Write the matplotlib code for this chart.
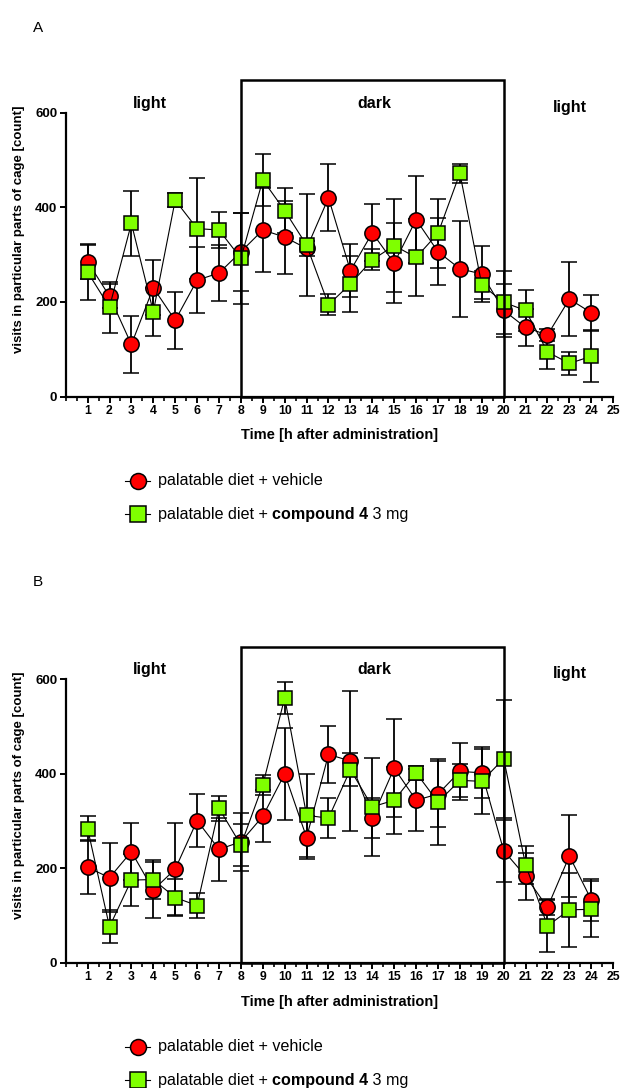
import matplotlib
matplotlib.use("Agg")
import matplotlib.pyplot as plt
from matplotlib.patches import Rectangle
from matplotlib.lines import Line2D
from matplotlib.ticker import MultipleLocator

plt.rcParams['font.family'] = ['Liberation Sans', 'DejaVu Sans']

hours = list(range(1, 25))
x_ticks = list(range(1, 26))
y_ticks = [0, 200, 400, 600]

A_veh_mean = [285, 212, 110, 230, 161, 246, 261, 306, 352, 337, 313, 420, 266, 346, 282, 374, 306, 270, 259, 182, 146, 130, 206, 177]
A_veh_sem = [37, 25, 61, 58, 60, 70, 59, 83, 89, 77, 15, 71, 56, 60, 84, 92, 71, 101, 60, 56, 40, 12, 79, 38]
A_cmp_mean = [263, 189, 366, 179, 415, 355, 352, 292, 458, 393, 320, 194, 238, 289, 319, 294, 345, 472, 236, 199, 182, 94, 70, 85]
A_cmp_sem = [58, 54, 69, 51, 15, 107, 38, 97, 55, 48, 108, 22, 59, 22, 99, 81, 73, 20, 30, 67, 44, 36, 25, 55]

B_veh_mean = [202, 180, 235, 154, 198, 301, 240, 256, 310, 400, 265, 441, 427, 306, 412, 344, 357, 405, 402, 237, 183, 117, 226, 133]
B_veh_sem = [57, 73, 60, 59, 97, 57, 67, 61, 55, 97, 46, 61, 149, 42, 104, 66, 70, 60, 54, 66, 50, 17, 86, 44]
B_cmp_mean = [284, 76, 175, 176, 138, 121, 327, 249, 376, 561, 312, 306, 409, 330, 344, 402, 340, 386, 384, 432, 207, 78, 112, 113]
B_cmp_sem = [27, 35, 56, 42, 40, 27, 26, 44, 22, 34, 88, 43, 35, 104, 71, 15, 91, 35, 69, 125, 41, 55, 78, 59]

dark_start, dark_end = 8, 20
phase_labels = ["light", "dark", "light"]
phase_x = [3.85, 14.1, 23.0]
phase_y = [620, 620, 612]

label_veh = "palatable diet + vehicle"
label_cmp_parts = [("palatable diet + ", 'normal'), ("compound 4", 'bold'), (" 3 mg", 'normal')]
red = "#FF0000"
green = "#7FFF00"

W, H = 624, 1088
fig = plt.figure(figsize=(W / 100, H / 100), dpi=100)

def px_axes(left, right, top, bottom):
    return [left / W, 1 - bottom / H, (right - left) / W, (bottom - top) / H]

def draw_panel(rect, veh_m, veh_s, cmp_m, cmp_s, box_top):
    ax = fig.add_axes(rect)
    ax.set_xlim(0, 25)
    ax.set_ylim(0, 600)
    for m, s, col, mk in [(veh_m, veh_s, red, 'o'), (cmp_m, cmp_s, green, 's')]:
        ax.errorbar(hours, m, yerr=s, fmt='-', color='black', lw=0.8,
                    ecolor='black', elinewidth=1.3, capsize=5.5, capthick=1.3,
                    marker=mk, markersize=11 if mk == 'o' else 10.5,
                    markerfacecolor=col, markeredgecolor='black',
                    markeredgewidth=1.1, clip_on=False, zorder=3)
    ax.add_patch(Rectangle((dark_start, 0), dark_end - dark_start, box_top,
                           fill=False, lw=1.8, edgecolor='black',
                           clip_on=False, zorder=4))
    for t, xx, yy in zip(phase_labels, phase_x, phase_y):
        ax.text(xx, yy, t, ha='center', va='center', fontsize=11.5,
                fontweight='bold')
    ax.spines['top'].set_visible(False)
    ax.spines['right'].set_visible(False)
    ax.spines['left'].set_linewidth(1.6)
    ax.spines['bottom'].set_linewidth(1.6)
    ax.set_xticks(x_ticks)
    ax.xaxis.set_minor_locator(MultipleLocator(0.5))
    ax.set_yticks(y_ticks)
    ax.tick_params(axis='both', which='major', width=1.4, length=4, pad=2)
    ax.tick_params(axis='x', which='major', labelsize=8.8)
    ax.tick_params(axis='y', which='major', labelsize=9.5)
    ax.tick_params(axis='x', which='minor', width=1.2, length=3)
    for lab in ax.get_xticklabels() + ax.get_yticklabels():
        lab.set_fontweight('bold')
    ax.set_xlabel("Time [h after administration]", fontsize=10.5,
                  fontweight='bold')
    ax.xaxis.set_label_coords(0.5, -0.137)
    ax.xaxis.label.set_va('center')
    ax.set_ylabel("visits in particular parts of cage [count]", fontsize=9.5,
                  fontweight='bold')
    ax.yaxis.set_label_coords(-0.085, 0.59)
    ax.yaxis.label.set_va('center')
    return ax

axA = draw_panel(px_axes(65.7, 613.2, 112.7, 396.5),
                 A_veh_mean, A_veh_sem, A_cmp_mean, A_cmp_sem, 670)
axB = draw_panel(px_axes(65.7, 613.2, 679.3, 962.7),
                 B_veh_mean, B_veh_sem, B_cmp_mean, B_cmp_sem, 668)

fig.text(33 / W, 1 - 28 / H, "A", fontsize=11, ha='left', va='center')
fig.text(33 / W, 1 - 582 / H, "B", fontsize=11, ha='left', va='center')

renderer = fig.canvas.get_renderer()
LEG_FS = 11.6

def legend(y1, y2):
    for yy, col, mk in [(y1, red, 'o'), (y2, green, 's')]:
        fy = 1 - yy / H
        fig.add_artist(Line2D([125 / W, 150 / W], [fy, fy], color='black',
                              lw=0.8, transform=fig.transFigure))
        fig.add_artist(Line2D([137.5 / W], [fy], marker=mk, markersize=11.5 if mk == 'o' else 11,
                              markerfacecolor=col, markeredgecolor='black',
                              markeredgewidth=1.1, transform=fig.transFigure))
    fig.text(158 / W, 1 - y1 / H, label_veh, fontsize=LEG_FS, ha='left', va='center')
    xpx = 158
    fy = 1 - y2 / H
    for txt, wt in label_cmp_parts:
        t = fig.text(xpx / W, fy, txt, fontsize=LEG_FS, fontweight=wt,
                     ha='left', va='center')
        bb = t.get_window_extent(renderer=renderer)
        xpx += bb.width

legend(481, 514)
legend(1047, 1080)

fig.savefig("out.png", dpi=100)
